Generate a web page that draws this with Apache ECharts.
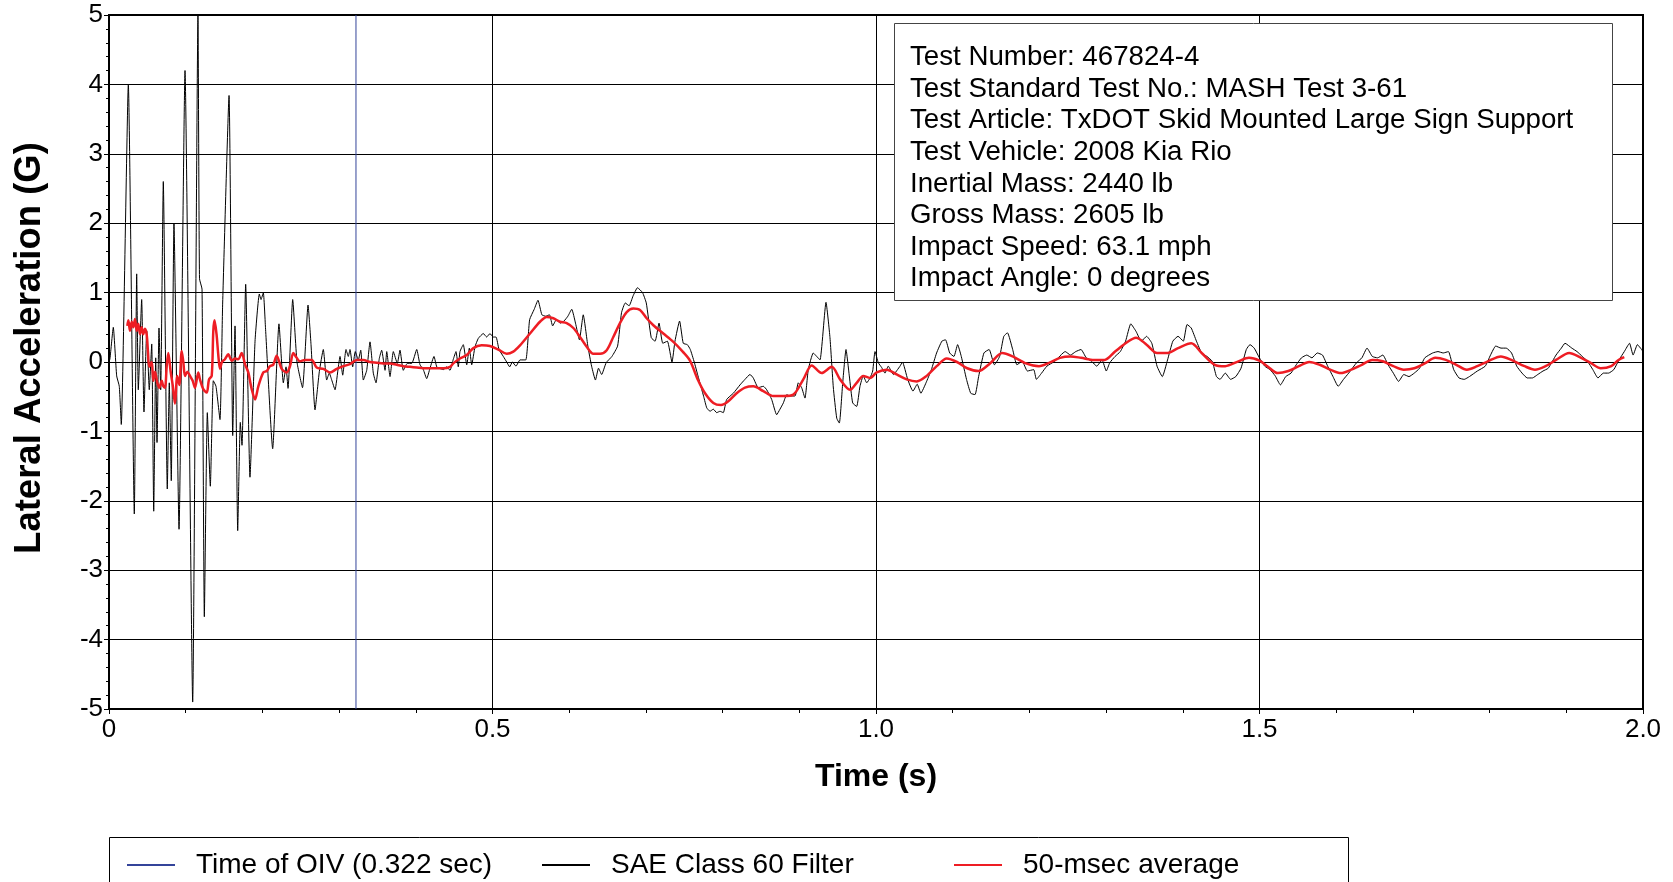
<!DOCTYPE html>
<html><head><meta charset="utf-8">
<script src="https://cdn.jsdelivr.net/npm/echarts@6/dist/echarts.min.js"></script>
<style>html,body{margin:0;padding:0;background:#fff}#c{width:1673px;height:882px}</style>
</head><body><div id="c"></div>
<script>
// ---------- data ----------
const xTickValues = [0, 0.5, 1, 1.5, 2];
const xTickLabels = ['0', '0.5', '1.0', '1.5', '2.0'];
const legendNames = ['Time of OIV (0.322 sec)', 'SAE Class 60 Filter', '50-msec average'];
const oivTime = 0.322;
const infoLines = [
  'Test Number: 467824-4',
  'Test Standard Test No.: MASH Test 3-61',
  'Test Article: TxDOT Skid Mounted Large Sign Support',
  'Test Vehicle: 2008 Kia Rio',
  'Inertial Mass: 2440 lb',
  'Gross Mass: 2605 lb',
  'Impact Speed: 63.1 mph',
  'Impact Angle: 0 degrees'
];

// SAE Class 60 filtered signal [time s, accel G]
const saeImpact = [[0,0.0],[0.0013,0.05],[0.0056,0.5],[0.0100,-0.2],[0.0134,-0.35],[0.0160,-0.9],[0.0252,4.0],[0.0330,-2.19],[0.0361,1.27],[0.0382,-0.4],[0.0426,0.9],[0.0456,-0.72],[0.0492,0.45],[0.0525,-0.4],[0.0557,0.26],[0.0583,-2.15],[0.0609,0.06],[0.0626,-1.16],[0.0652,0.49],[0.0674,-0.4],[0.0708,2.6],[0.0760,-1.83],[0.0786,-0.3],[0.0812,-1.71],[0.0847,2.0],[0.0913,-2.41],[0.0991,4.2],[0.1091,-4.9],[0.1160,5.0],[0.1180,1.2],[0.1213,1.05],[0.1243,-3.67],[0.1282,-0.73],[0.1321,-1.79],[0.1360,-0.27],[0.1395,-0.35],[0.1447,-0.83],[0.1482,0.85],[0.1565,3.84],[0.1613,-1.06],[0.1643,0.52],[0.1678,-2.43],[0.1712,-0.87],[0.1734,-1.2],[0.1782,1.12],[0.1838,-1.66],[0.1904,0.3],[0.1960,0.98],[0.1982,0.9],[0.2012,1.0],[0.2040,0.5],[0.2134,-1.25],[0.2216,0.55],[0.2273,-0.3],[0.2308,-0.07],[0.2334,-0.38],[0.2395,0.9],[0.2451,0.0]];
const saeMid = [[0.2523,-0.37],[0.2595,0.82],[0.2634,0.25],[0.2686,-0.69],[0.2742,-0.14],[0.2794,0.18],[0.2838,-0.26],[0.2872,-0.16],[0.2904,-0.26],[0.2947,-0.4],[0.2990,-0.07],[0.3012,0.08],[0.3047,-0.19],[0.3090,0.18],[0.3120,0.08],[0.3142,0.18],[0.3177,-0.07],[0.3211,0.15],[0.3250,0.03],[0.3282,0.17],[0.3316,-0.26],[0.3360,-0.12],[0.3403,0.29],[0.3446,-0.16],[0.3481,-0.3],[0.3524,0.05],[0.3555,0.17],[0.3599,-0.12],[0.3621,0.15],[0.3664,-0.21],[0.3707,0.15],[0.3759,-0.02],[0.3794,0.17],[0.3837,-0.12],[0.3889,-0.02],[0.3947,-0.02],[0.4012,0.18],[0.4055,-0.04],[0.4098,-0.11],[0.4142,-0.24],[0.4185,-0.09],[0.4237,0.08],[0.4273,-0.07],[0.4307,-0.09],[0.4359,-0.11],[0.4403,-0.07],[0.4446,-0.12],[0.4489,0.04],[0.4524,0.15],[0.4554,-0.07],[0.4576,0.15],[0.4619,0.25],[0.4664,-0.04],[0.4698,0.2],[0.4729,-0.04],[0.4772,0.22],[0.4815,0.34],[0.4880,0.41],[0.4924,0.36],[0.4967,0.41],[0.5010,0.36],[0.5046,0.36],[0.5085,0.18],[0.5141,0.08],[0.5185,0.0],[0.5224,-0.07],[0.5259,0.0],[0.5306,-0.06],[0.5359,0.03],[0.5434,0.03],[0.5484,0.61],[0.5544,0.76],[0.5593,0.89],[0.5644,0.68],[0.5694,0.66],[0.5743,0.68],[0.5784,0.52],[0.5833,0.61],[0.5883,0.56],[0.5932,0.59],[0.5983,0.66],[0.6033,0.76],[0.6082,0.56],[0.6133,0.32],[0.6183,0.68],[0.6243,0.23],[0.6292,-0.06],[0.6342,-0.26],[0.6382,-0.09],[0.6423,-0.18],[0.6482,-0.01],[0.6557,0.08],[0.6631,0.23],[0.6682,0.71],[0.6731,0.85],[0.6781,0.81],[0.6832,0.95],[0.6890,1.07],[0.6956,1.0],[0.7005,0.85],[0.7070,0.35],[0.7120,0.3],[0.7171,0.56],[0.7220,0.27],[0.7280,0.3],[0.7340,0.0],[0.7379,0.3],[0.7439,0.59],[0.7487,0.27],[0.7540,0.25],[0.7579,0.18],[0.7630,0.0],[0.7679,-0.2],[0.7754,-0.5],[0.7793,-0.66],[0.7836,-0.71],[0.7879,-0.68],[0.7923,-0.73],[0.7966,-0.71],[0.8009,-0.73],[0.8053,-0.54],[0.8140,-0.45],[0.8227,-0.33],[0.8292,-0.25],[0.8357,-0.18],[0.8400,-0.23],[0.8465,-0.37],[0.8531,-0.35],[0.8575,-0.4],[0.8640,-0.54],[0.8705,-0.76],[0.8748,-0.68],[0.8792,-0.59],[0.8836,-0.47],[0.8879,-0.49],[0.8944,-0.49],[0.8987,-0.3],[0.9031,-0.37],[0.9074,-0.52],[0.9117,-0.11],[0.9182,0.13],[0.9227,0.08],[0.9270,0.03],[0.9348,0.86],[0.9400,0.35],[0.9443,-0.36],[0.9488,-0.81],[0.9522,-0.88],[0.9566,-0.3],[0.9609,0.18],[0.9652,-0.2],[0.9696,-0.59],[0.9748,-0.64],[0.9791,-0.35],[0.9834,-0.2],[0.9879,-0.3],[0.9922,-0.23],[0.9957,-0.13],[0.9987,0.15]];
const saeLate = [[1.0030,-0.01],[1.0074,-0.08],[1.0117,-0.16],[1.0160,-0.06],[1.0226,-0.18],[1.0313,-0.06],[1.0345,0.0],[1.0413,-0.25],[1.0482,-0.42],[1.0537,-0.32],[1.0585,-0.45],[1.0652,-0.3],[1.0722,-0.11],[1.0790,0.13],[1.0859,0.3],[1.0906,0.32],[1.0961,0.13],[1.1016,0.08],[1.1064,0.25],[1.1112,0.08],[1.1180,-0.25],[1.1235,-0.45],[1.1291,-0.47],[1.1338,-0.21],[1.1407,0.13],[1.1475,0.18],[1.1544,-0.04],[1.1612,0.08],[1.1666,0.37],[1.1714,0.42],[1.1782,0.18],[1.1837,-0.04],[1.1906,0.01],[1.1974,-0.13],[1.2056,-0.11],[1.2091,-0.25],[1.2159,-0.16],[1.2228,-0.06],[1.2330,0.01],[1.2467,0.15],[1.2536,0.1],[1.2604,0.15],[1.2673,0.18],[1.2741,0.06],[1.2810,0.01],[1.2878,-0.06],[1.2947,0.03],[1.3002,-0.13],[1.3048,-0.01],[1.3117,0.08],[1.3185,0.15],[1.3254,0.3],[1.3322,0.55],[1.3391,0.44],[1.3459,0.3],[1.3528,0.37],[1.3596,0.27],[1.3664,-0.06],[1.3733,-0.21],[1.3801,0.03],[1.3870,0.3],[1.3938,0.37],[1.4007,0.3],[1.4055,0.54],[1.4110,0.49],[1.4178,0.3],[1.4246,0.13],[1.4315,0.08],[1.4384,0.01],[1.4439,-0.21],[1.4485,-0.25],[1.4554,-0.16],[1.4623,-0.25],[1.4691,-0.21],[1.4759,-0.09],[1.4828,0.18],[1.4876,0.25],[1.4931,0.2],[1.4999,0.06],[1.5068,-0.06],[1.5137,-0.11],[1.5205,-0.2],[1.5273,-0.33],[1.5342,-0.21],[1.5411,-0.16],[1.5479,-0.04],[1.5547,0.06],[1.5616,0.1],[1.5684,0.06],[1.5753,0.13],[1.5821,0.1],[1.5889,-0.06],[1.5958,-0.21],[1.6026,-0.35],[1.6095,-0.25],[1.6163,-0.16],[1.6266,-0.01],[1.6335,0.06],[1.6402,0.2],[1.6471,0.08],[1.6540,0.06],[1.6608,0.1],[1.6676,-0.04],[1.6745,-0.16],[1.6814,-0.28],[1.6881,-0.18],[1.6949,-0.21],[1.7018,-0.16],[1.7087,-0.09],[1.7155,0.06],[1.7258,0.13],[1.7327,0.15],[1.7395,0.13],[1.7463,0.15],[1.7532,-0.11],[1.7601,-0.23],[1.7669,-0.25],[1.7737,-0.21],[1.7840,-0.13],[1.7943,-0.06],[1.8012,0.1],[1.8080,0.23],[1.8149,0.2],[1.8217,0.2],[1.8286,0.13],[1.8354,-0.06],[1.8423,-0.16],[1.8491,-0.23],[1.8558,-0.23],[1.8628,-0.18],[1.8696,-0.13],[1.8764,-0.09],[1.8866,0.1],[1.8935,0.2],[1.8983,0.27],[1.9072,0.2],[1.9140,0.15],[1.9209,0.08],[1.9277,0.01],[1.9346,-0.11],[1.9413,-0.23],[1.9483,-0.16],[1.9550,-0.16],[1.9619,-0.11],[1.9687,0.03],[1.9756,0.15],[1.9824,0.27],[1.9871,0.1],[1.9927,0.25],[1.9982,0.18],[2.0,0.15]];

// 50-msec moving average [time s, accel G]
const avgImpact = [[0.0239,0.52],[0.0252,0.6],[0.0274,0.45],[0.0296,0.58],[0.0317,0.5],[0.0339,0.62],[0.0361,0.45],[0.0382,0.55],[0.0404,0.4],[0.0426,0.5],[0.0447,0.4],[0.0469,0.48],[0.0492,0.39],[0.0508,0.15],[0.0525,-0.07],[0.0557,0.0],[0.0578,-0.27],[0.0600,-0.14],[0.0630,-0.3],[0.0656,-0.37],[0.0687,-0.27],[0.0708,-0.35],[0.0730,-0.37],[0.0752,-0.07],[0.0773,0.13],[0.0804,-0.14],[0.0830,-0.33],[0.0860,-0.6],[0.0890,-0.2],[0.0917,-0.33],[0.0948,0.16],[0.0969,0.0],[0.0991,-0.2],[0.1021,-0.14],[0.1056,-0.2],[0.1091,-0.27],[0.1121,-0.37],[0.1164,-0.15],[0.1186,-0.25],[0.1229,-0.39],[0.1274,-0.44],[0.1304,-0.25],[0.1339,-0.2],[0.1360,0.45],[0.1376,0.6],[0.1402,0.4],[0.1425,0.1],[0.1447,-0.1],[0.1473,0.0],[0.1512,0.04],[0.1555,0.11],[0.1600,0.02],[0.1643,0.05],[0.1686,0.04],[0.1730,0.13],[0.1773,-0.03],[0.1816,-0.15],[0.1860,-0.39],[0.1904,-0.54],[0.1947,-0.35],[0.2012,-0.15],[0.2056,-0.13],[0.2099,-0.06],[0.2142,-0.04],[0.2186,0.09],[0.2252,-0.1],[0.2317,-0.15],[0.2360,-0.06],[0.2403,0.13],[0.2447,0.06],[0.2490,0.01]];
const avgRest = [[0.2555,0.03],[0.2643,0.03],[0.2708,-0.08],[0.2794,-0.1],[0.2881,-0.15],[0.2969,-0.1],[0.3055,-0.06],[0.3142,-0.03],[0.3229,0.03],[0.3316,0.03],[0.3403,0.0],[0.3490,-0.01],[0.3576,-0.02],[0.3664,-0.02],[0.3751,-0.04],[0.3837,-0.06],[0.3924,-0.07],[0.4012,-0.08],[0.4098,-0.09],[0.4185,-0.09],[0.4273,-0.09],[0.4359,-0.09],[0.4446,-0.07],[0.4489,-0.02],[0.4576,0.05],[0.4664,0.1],[0.4750,0.2],[0.4859,0.24],[0.4967,0.23],[0.5076,0.18],[0.5185,0.12],[0.5271,0.15],[0.5359,0.24],[0.5489,0.41],[0.5619,0.58],[0.5707,0.65],[0.5793,0.63],[0.5880,0.58],[0.5967,0.56],[0.6054,0.49],[0.6141,0.36],[0.6228,0.22],[0.6314,0.12],[0.6402,0.12],[0.6489,0.17],[0.6575,0.36],[0.6662,0.56],[0.6750,0.72],[0.6836,0.77],[0.6923,0.75],[0.7010,0.63],[0.7097,0.53],[0.7227,0.41],[0.7358,0.29],[0.7480,0.15],[0.7575,0.02],[0.7679,-0.26],[0.7771,-0.45],[0.7879,-0.59],[0.7979,-0.62],[0.8070,-0.57],[0.8183,-0.45],[0.8292,-0.37],[0.8400,-0.35],[0.8531,-0.42],[0.8661,-0.49],[0.8792,-0.49],[0.8922,-0.47],[0.9052,-0.25],[0.9162,-0.05],[0.9292,-0.16],[0.9423,-0.07],[0.9531,-0.25],[0.9661,-0.4],[0.9748,-0.3],[0.9834,-0.2],[0.9922,-0.23],[1.0009,-0.15],[1.0139,-0.11],[1.0270,-0.18],[1.0400,-0.25],[1.0531,-0.28],[1.0661,-0.2],[1.0791,-0.06],[1.0922,0.05],[1.1056,0.0],[1.1189,-0.09],[1.1338,-0.13],[1.1486,-0.02],[1.1646,0.13],[1.1782,0.08],[1.1955,-0.02],[1.2125,-0.06],[1.2262,-0.01],[1.2398,0.06],[1.2536,0.08],[1.2673,0.06],[1.2843,0.03],[1.2980,0.03],[1.3117,0.15],[1.3254,0.27],[1.3390,0.35],[1.3528,0.25],[1.3664,0.13],[1.3801,0.13],[1.3938,0.2],[1.4110,0.27],[1.4246,0.13],[1.4417,-0.04],[1.4554,-0.06],[1.4725,0.01],[1.4863,0.06],[1.4999,0.02],[1.5102,-0.06],[1.5239,-0.16],[1.5376,-0.13],[1.5513,-0.06],[1.5649,0.0],[1.5786,-0.04],[1.5923,-0.11],[1.6060,-0.16],[1.6197,-0.11],[1.6334,-0.04],[1.6471,0.03],[1.6608,0.01],[1.6745,-0.06],[1.6881,-0.11],[1.7018,-0.09],[1.7155,-0.02],[1.7292,0.06],[1.7429,0.03],[1.7566,-0.04],[1.7703,-0.11],[1.7840,-0.06],[1.7977,0.01],[1.8147,0.08],[1.8284,0.03],[1.8455,-0.06],[1.8592,-0.11],[1.8729,-0.06],[1.8866,0.03],[1.9038,0.13],[1.9175,0.07],[1.9312,-0.01],[1.9449,-0.09],[1.9586,-0.06],[1.9681,0.03],[1.9756,0.07]];

// ---------- chart ----------
const FONT = '"Liberation Sans", Arial, Helvetica, sans-serif';
const sae = saeImpact.concat(saeMid, saeLate);
const avg = avgImpact.concat(avgRest);
const legendLeft = [126, 541, 953];

const chart = echarts.init(document.getElementById('c'), null, {renderer: 'canvas'});
const option = {
  animation: false,
  backgroundColor: '#ffffff',
  grid: {left: 109, top: 15, width: 1534, height: 694, show: true, borderColor: '#000', borderWidth: 2,
         backgroundColor: 'rgba(0,0,0,0)', containLabel: false, outerBoundsMode: 'none'},
  xAxis: {
    type: 'value', min: 0, max: 2, interval: 0.5,
    axisLine: {show: true, onZero: false, lineStyle: {color: '#000', width: 2}},
    axisTick: {show: true, length: 5, lineStyle: {color: '#000', width: 1}},
    minorTick: {show: true, splitNumber: 5, length: 4, lineStyle: {color: '#000', width: 1}},
    splitLine: {show: true, lineStyle: {color: '#000', width: 1}},
    minorSplitLine: {show: false},
    axisLabel: {color: '#000', fontSize: 26, fontFamily: FONT, margin: 8,
      formatter: v => { const i = xTickValues.findIndex(a => Math.abs(a - v) < 1e-9); return i >= 0 ? xTickLabels[i] : ''; }},
    name: 'Time (s)', nameLocation: 'middle', nameGap: 52,
    nameTextStyle: {fontSize: 32, fontWeight: 'bold', color: '#000', fontFamily: FONT}
  },
  yAxis: {
    type: 'value', min: -5, max: 5, interval: 1,
    axisLine: {show: true, onZero: false, lineStyle: {color: '#000', width: 2}},
    axisTick: {show: true, length: 5, lineStyle: {color: '#000', width: 1}},
    minorTick: {show: true, splitNumber: 5, length: 3, lineStyle: {color: '#000', width: 1}},
    splitLine: {show: true, lineStyle: {color: '#000', width: 1}},
    axisLabel: {color: '#000', fontSize: 26, fontFamily: FONT, margin: 6},
    name: 'Lateral Acceleration (G)', nameLocation: 'middle', nameRotate: 90, nameGap: 61,
    nameTextStyle: {fontSize: 36.5, fontWeight: 'bold', color: '#000', fontFamily: FONT, padding: [0, 0, 0, 28]}
  },
  legend: legendNames.map((n, i) => ({
    data: [n], left: legendLeft[i], top: 851, padding: 0, itemWidth: 48, itemHeight: 14,
    selectedMode: false, z: 10,
    itemStyle: {opacity: 0},
    textStyle: {fontSize: 28, color: '#000', fontFamily: FONT, padding: [0, 0, 0, 16]}
  })),
  series: [
    {name: legendNames[0], type: 'line', data: [[oivTime, -5], [oivTime, 5]], symbol: 'none', silent: true, z: 1,
     lineStyle: {color: '#34449a', width: 1}, itemStyle: {color: '#34449a'}},
    {name: legendNames[1], type: 'line', data: sae, symbol: 'none', silent: true, z: 2, smooth: 0.15,
     lineStyle: {color: '#000', width: 1}, itemStyle: {color: '#000'}},
    {name: legendNames[2], type: 'line', data: avg, symbol: 'none', silent: true, z: 3, smooth: 0.3,
     lineStyle: {color: '#ee1d24', width: 2.5}, itemStyle: {color: '#ee1d24'}}
  ],
  graphic: [
    {type: 'rect', z: 0, silent: true, shape: {x: 109.5, y: 837.5, width: 1239, height: 80},
     style: {fill: '#fff', stroke: '#000', lineWidth: 1}},
    {type: 'group', z: 100, silent: true, children: [
      {type: 'rect', z: 100, shape: {x: 894.5, y: 23.5, width: 718, height: 277},
       style: {fill: '#fff', stroke: '#444', lineWidth: 1}}
    ].concat(infoLines.map((s, i) => ({
      type: 'text', z: 101, x: 910, y: 57.5 + i * 31.6,
      style: {text: s, fill: '#000', font: '27.7px ' + FONT, verticalAlign: 'middle', textVerticalAlign: 'middle'}
    })))}
  ]
};
chart.setOption(option);
</script>
</body></html>
